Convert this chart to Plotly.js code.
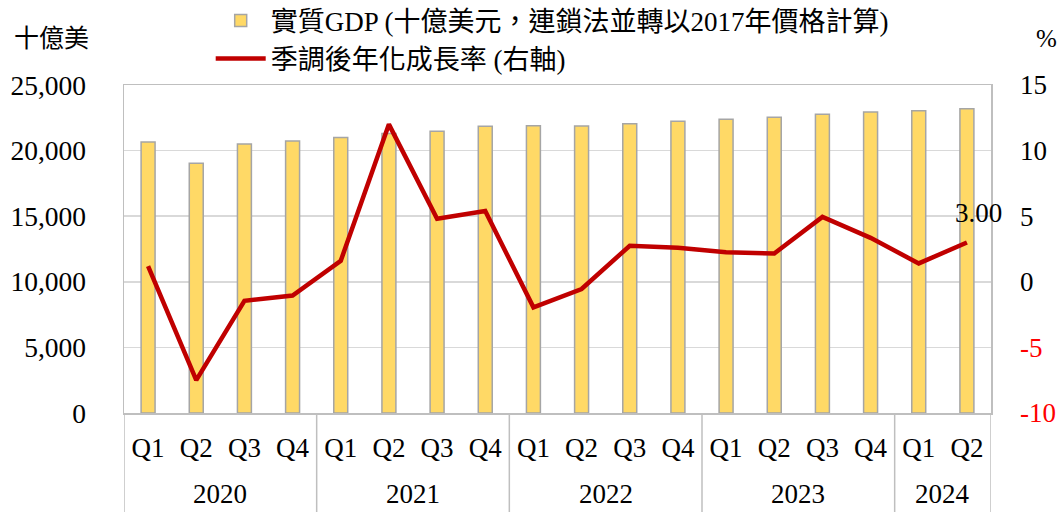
<!DOCTYPE html>
<html>
<head>
<meta charset="utf-8">
<script src="https://cdn.plot.ly/plotly-3.0.1.min.js"></script>
<style>
  html, body { margin: 0; padding: 0; background: #fff; }
  #chart { width: 1061px; height: 512px; }
</style>
</head>
<body>
<div id="chart"></div>
<script>
/* ---- Data ---- */
const years = ['2020', '2021', '2022', '2023', '2024'];
const quarters = ['Q1', 'Q2', 'Q3', 'Q4', 'Q1', 'Q2', 'Q3', 'Q4', 'Q1', 'Q2', 'Q3', 'Q4',
                  'Q1', 'Q2', 'Q3', 'Q4', 'Q1', 'Q2'];
const periods = ['2020Q1', '2020Q2', '2020Q3', '2020Q4', '2021Q1', '2021Q2', '2021Q3', '2021Q4',
                 '2022Q1', '2022Q2', '2022Q3', '2022Q4', '2023Q1', '2023Q2', '2023Q3', '2023Q4',
                 '2024Q1', '2024Q2'];
const realGdp = [20665, 19034, 20511, 20724, 20991, 21309, 21483, 21847,
                 21898, 21875, 22050, 22233, 22386, 22538, 22767, 22942, 23041, 23194];
const growth = [1.2, -7.5, -1.45, -1.05, 1.6, 12.0, 4.8, 5.4,
                -1.95, -0.55, 2.75, 2.6, 2.25, 2.15, 4.95, 3.35, 1.4, 3.00];
const rightTicks = [-10, -5, 0, 5, 10, 15];

const FONT = '"Liberation Serif", "Times New Roman", "Noto Sans CJK TC", serif';
const GRID = '#D9D9D9';
const BORDER = '#BFBFBF';

// quarter slots per year, to place the year labels and dividers
const yearCounts = years.map(y => periods.filter(p => p.startsWith(y)).length);
const last = periods.length - 1;

const traces = [
  {
    type: 'bar', x: periods, y: realGdp, name: '實質GDP (十億美元，連鎖法並轉以2017年價格計算)',
    width: 0.29,
    marker: { color: '#FFD966', line: { color: '#A5A5A5', width: 1.5 } },
    hoverinfo: 'x+y'
  },
  {
    type: 'scatter', x: periods, y: growth, yaxis: 'y2', name: '季調後年化成長率 (右軸)',
    mode: 'lines',
    line: { color: '#C00000', width: 4.5 }
  }
];

// year labels and group dividers under the axis
const annotations = [];
const shapes = [];
let start = 0;
years.forEach((y, k) => {
  const n = yearCounts[k];
  annotations.push({
    xref: 'x', yref: 'paper', x: start + (n - 1) / 2, y: -0.248,
    text: y, showarrow: false, xanchor: 'center', yanchor: 'middle',
    font: { family: FONT, size: 27, color: '#000' }
  });
  shapes.push({
    type: 'line', xref: 'x', yref: 'paper', x0: start - 0.5, x1: start - 0.5, y0: 0, y1: -0.31,
    line: { color: BORDER, width: 1.5 }
  });
  start += n;
});
shapes.push({
  type: 'line', xref: 'x', yref: 'paper', x0: start - 0.5, x1: start - 0.5, y0: 0, y1: -0.31,
  line: { color: BORDER, width: 1.5 }
});

// value label on the latest growth point
annotations.push({
  xref: 'x', yref: 'y2', x: periods[last], y: growth[last],
  text: growth[last].toFixed(2), showarrow: false, xanchor: 'center', yanchor: 'middle',
  xshift: 12, yshift: 29, font: { family: FONT, size: 27, color: '#000' }
});

annotations.push(
  { xref: 'paper', yref: 'paper', x: -0.129, y: 1.143, xanchor: 'left', yanchor: 'middle',
    text: '十億美', showarrow: false, font: { family: FONT, size: 25, color: '#000' } },
  { xref: 'paper', yref: 'paper', x: 1.078, y: 1.143, xanchor: 'right', yanchor: 'middle',
    text: '%', showarrow: false, font: { family: FONT, size: 25, color: '#000' } }
);

const layout = {
  width: 1061, height: 512,
  margin: { l: 124, r: 70, t: 85, b: 99, autoexpand: false },
  paper_bgcolor: '#fff', plot_bgcolor: '#fff',
  font: { family: FONT, size: 27, color: '#000' },
  showlegend: true,
  legend: {
    x: 0.1, y: 1.27, xanchor: 'left', yanchor: 'top',
    font: { family: FONT, size: 27, color: '#000' },
    bgcolor: 'rgba(0,0,0,0)', tracegroupgap: 0, itemwidth: 50
  },
  xaxis: {
    type: 'category', categoryorder: 'array', categoryarray: periods,
    tickvals: periods, ticktext: quarters,
    showgrid: false, zeroline: false,
    showline: true, linecolor: BORDER, linewidth: 1.5, mirror: true,
    ticks: '', ticklabelstandoff: 10,
    tickfont: { family: FONT, size: 27, color: '#000' },
    range: [-0.5, periods.length - 0.5]
  },
  yaxis: {
    range: [0, 25000], dtick: 5000, tickformat: ',',
    showgrid: true, gridcolor: GRID, gridwidth: 1.5,
    zeroline: false, showline: true, linecolor: BORDER, linewidth: 1.5,
    ticks: '', ticklabelstandoff: 31,
    tickfont: { family: FONT, size: 27.5, color: '#000' }
  },
  yaxis2: {
    overlaying: 'y', side: 'right', range: [-10, 15],
    tickvals: rightTicks,
    ticktext: rightTicks.map(v => v < 0 ? `<span style="color:#FF0000">${v}</span>` : `${v}`),
    showgrid: false, zeroline: false, showline: true, linecolor: BORDER, linewidth: 1.5,
    ticks: '', ticklabelstandoff: 22,
    tickfont: { family: FONT, size: 27, color: '#000' }
  },
  annotations: annotations,
  shapes: shapes
};

Plotly.newPlot('chart', traces, layout, { displayModeBar: false, staticPlot: true });
</script>
</body>
</html>
